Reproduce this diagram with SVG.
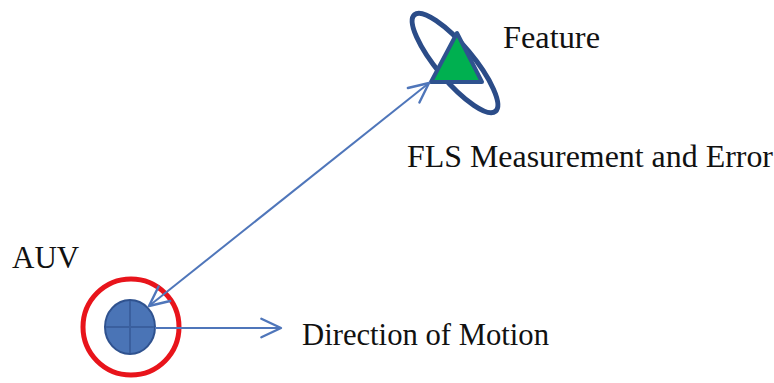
<svg xmlns="http://www.w3.org/2000/svg" width="774" height="383" viewBox="0 0 774 383">
<style>
.lbl{font-family:"Liberation Serif","Times New Roman",serif;font-size:31px;fill:#111}
.conn{stroke:#4F76BA;stroke-width:2;fill:none}
</style>
<defs>
<marker id="chev" markerUnits="userSpaceOnUse" markerWidth="24" markerHeight="24" viewBox="-20 -10 22 20" refX="0" refY="0" orient="auto-start-reverse">
<path d="M-18,-8.5 L0,0 L-18,8.5" fill="none" stroke="#4F76BA" stroke-width="2.2" stroke-linecap="round" stroke-linejoin="round"/>
</marker>
</defs>
<rect width="774" height="383" fill="#ffffff"/>
<g id="feature">
<ellipse cx="455" cy="63" rx="63" ry="18" transform="rotate(50 455 63)" fill="none" stroke="#2B4C88" stroke-width="5"/>
<polygon points="457,33 431,82 482,82" fill="#00B050" stroke="#2F528F" stroke-width="4" stroke-linejoin="round"/>
<text class="lbl" x="503" y="48" textLength="97" lengthAdjust="spacingAndGlyphs">Feature</text>
</g>
<g id="fls-label">
<text class="lbl" x="407" y="167" textLength="366" lengthAdjust="spacingAndGlyphs">FLS Measurement and Error</text>
</g>
<g id="auv">
<circle cx="131" cy="327" r="48" fill="none" stroke="#E8141B" stroke-width="5"/>
<ellipse cx="130" cy="327" rx="25" ry="27" fill="#4A74B6" stroke="#2F528F" stroke-width="2"/>
<line x1="130" y1="301" x2="130" y2="353" stroke="#3A5F9E" stroke-width="2"/>
<line x1="106" y1="327" x2="154" y2="327" stroke="#3A5F9E" stroke-width="2"/>
<text class="lbl" x="12" y="268">AUV</text>
</g>
<g id="motion">
<text class="lbl" x="302" y="345" textLength="247" lengthAdjust="spacingAndGlyphs">Direction of Motion</text>
</g>
<g id="connectors">
<line class="conn" x1="149" y1="306" x2="429" y2="83" marker-start="url(#chev)" marker-end="url(#chev)"/>
<line class="conn" x1="155" y1="328" x2="281" y2="328" marker-end="url(#chev)"/>
</g>
</svg>
